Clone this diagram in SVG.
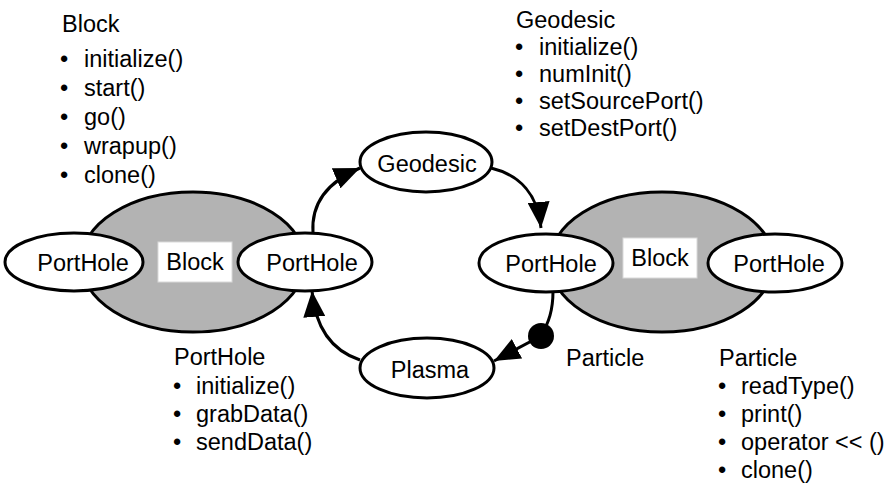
<svg xmlns="http://www.w3.org/2000/svg" width="890" height="494" viewBox="0 0 890 494">
<defs>
<style>
text{font-family:"Liberation Sans",Arial,sans-serif;font-size:23.5px;fill:#000}
.node{fill:#fff;stroke:#000;stroke-width:3}
.block{fill:#b3b3b3;stroke:#000;stroke-width:3}
.lbl{fill:#fff;stroke:#d9d9d9;stroke-width:1}
.edge{fill:none;stroke:#000;stroke-width:3}
</style>
<marker id="ah" viewBox="0 0 26 22" refX="26" refY="11" markerWidth="26" markerHeight="22" markerUnits="userSpaceOnUse" orient="auto">
<path d="M0,0 L26,11 L0,22 z" fill="#000"/>
</marker>
</defs>
<g id="blockA">
<ellipse class="block" cx="193" cy="262" rx="112" ry="70"/>
<rect class="lbl" x="158" y="242" width="74" height="40"/>
<text x="195" y="270" text-anchor="middle">Block</text>
</g>
<g id="blockB">
<ellipse class="block" cx="662" cy="262" rx="112" ry="70"/>
<rect class="lbl" x="623" y="238" width="74" height="40"/>
<text x="660" y="266" text-anchor="middle">Block</text>
</g>
<g id="portA1">
<ellipse class="node" cx="74" cy="262" rx="69" ry="29"/>
<text x="83" y="271" text-anchor="middle">PortHole</text>
</g>
<g id="portA2">
<ellipse class="node" cx="305" cy="262" rx="67" ry="29"/>
<text x="312" y="271" text-anchor="middle">PortHole</text>
</g>
<g id="portB1">
<ellipse class="node" cx="546" cy="263" rx="67" ry="29"/>
<text x="551" y="272" text-anchor="middle">PortHole</text>
</g>
<g id="portB2">
<ellipse class="node" cx="775" cy="263" rx="67" ry="29"/>
<text x="779" y="272" text-anchor="middle">PortHole</text>
</g>
<g id="geodesic">
<ellipse class="node" cx="426" cy="162" rx="66" ry="30"/>
<text x="427" y="172" text-anchor="middle">Geodesic</text>
</g>
<g id="plasma">
<ellipse class="node" cx="427" cy="368" rx="67" ry="30"/>
<text x="430" y="378" text-anchor="middle">Plasma</text>
</g>
<g id="particle">
<circle cx="541" cy="336" r="13" fill="#000"/>
<text x="566" y="366">Particle</text>
</g>
<g id="connectors">
<path class="edge" d="M313,233 C311,205 325,183 360,168" marker-end="url(#ah)"/>
<path class="edge" d="M491,168 C520,175 538,195 541,228" marker-end="url(#ah)"/>
<path class="edge" d="M553,291 C553,310 549,322 541,336"/>
<path class="edge" d="M541,336 L494,361" marker-end="url(#ah)"/>
<path class="edge" d="M360,360 C330,350 315,325 312,291" marker-end="url(#ah)"/>
</g>
<g id="notes">
<text x="62" y="32">Block</text>
<text x="60" y="67">•</text><text x="84" y="67">initialize()</text>
<text x="60" y="96">•</text><text x="84" y="96">start()</text>
<text x="60" y="125">•</text><text x="84" y="125">go()</text>
<text x="60" y="154">•</text><text x="84" y="154">wrapup()</text>
<text x="60" y="183">•</text><text x="84" y="183">clone()</text>

<text x="516" y="28">Geodesic</text>
<text x="515" y="55">•</text><text x="539" y="55">initialize()</text>
<text x="515" y="82">•</text><text x="539" y="82">numInit()</text>
<text x="515" y="109">•</text><text x="539" y="109">setSourcePort()</text>
<text x="515" y="136">•</text><text x="539" y="136">setDestPort()</text>

<text x="174" y="365">PortHole</text>
<text x="173" y="394">•</text><text x="196" y="394">initialize()</text>
<text x="173" y="422">•</text><text x="196" y="422">grabData()</text>
<text x="173" y="450">•</text><text x="196" y="450">sendData()</text>

<text x="719" y="366">Particle</text>
<text x="718" y="394">•</text><text x="741" y="394">readType()</text>
<text x="718" y="422">•</text><text x="741" y="422">print()</text>
<text x="718" y="450">•</text><text x="741" y="450">operator &lt;&lt; ()</text>
<text x="718" y="478">•</text><text x="741" y="478">clone()</text>
</g>
</svg>
